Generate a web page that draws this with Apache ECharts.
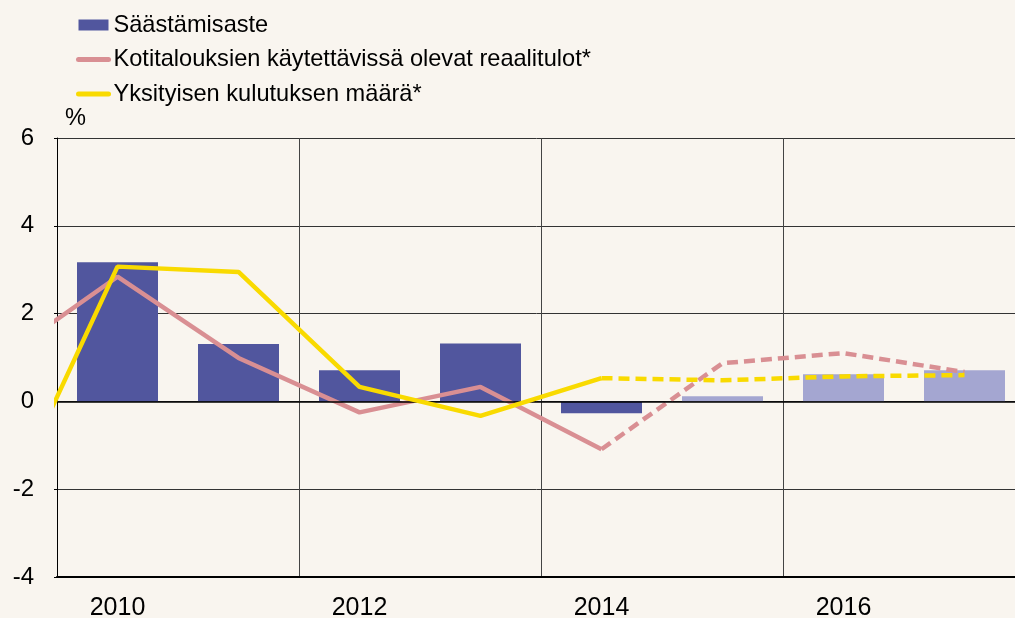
<!DOCTYPE html>
<html>
<head>
<meta charset="utf-8">
<script src="https://cdn.jsdelivr.net/npm/echarts@6/dist/echarts.min.js"></script>
<style>
  html, body { margin: 0; padding: 0; background: #f9f5ef; }
  #chart { width: 1015px; height: 618px; }
</style>
</head>
<body>
<div id="chart"></div>
<script>
// vuodet (pylväät)
const years = ['2010', '2011', '2012', '2013', '2014', '2015', '2016', '2017'];
// säästämisaste, 2015- ennuste
const saving = [3.17, 1.31, 0.71, 1.32, -0.27, 0.12, 0.62, 0.71];
const firstForecast = 5;

// viivat: vuodet 2009-2017, 2009 jää kuvan reunan taakse
const lineYears = [2009, 2010, 2011, 2012, 2013, 2014, 2015, 2016, 2017];
const income = [0.9, 2.84, 0.99, -0.25, 0.33, -1.09, 0.87, 1.1, 0.67];
const consumption = [-2.87, 3.07, 2.95, 0.33, -0.33, 0.53, 0.48, 0.57, 0.6];
const solidUntil = 5; // 2014 asti yhtenäinen

const names = ['Säästämisaste', 'Kotitalouksien käytettävissä olevat reaalitulot*', 'Yksityisen kulutuksen määrä*'];

function pairs(vals, from, to) {
  const out = [];
  for (let i = from; i <= to; i++) out.push([lineYears[i], vals[i]]);
  return out;
}

const chart = echarts.init(document.getElementById('chart'));
const font = 'Liberation Sans, Arial, sans-serif';

chart.setOption({
  backgroundColor: '#f9f5ef',
  animation: false,
  textStyle: { fontFamily: font },
  legend: {
    orient: 'vertical',
    left: 76,
    top: 13,
    padding: 0,
    itemWidth: 30,
    itemHeight: 11,
    itemGap: 10.5,
    textStyle: { fontSize: 23.6, color: '#000', fontFamily: font },
    data: [
      { name: names[0], icon: 'rect' },
      { name: names[1], itemStyle: { opacity: 0 }, lineStyle: { width: 5, cap: 'round' } },
      { name: names[2], itemStyle: { opacity: 0 }, lineStyle: { width: 5, cap: 'round' } }
    ]
  },
  // plot area continues past the right edge of the picture
  grid: { left: 57, top: 138, width: 968, height: 439, outerBoundsMode: 'none' },
  xAxis: [
    {
      type: 'category',
      data: years,
      boundaryGap: true,
      axisLine: { onZero: false, lineStyle: { color: '#000', width: 2 } },
      axisTick: { show: false },
      axisLabel: { interval: 1, fontSize: 25, color: '#000', margin: 19, fontFamily: font },
      splitLine: { show: true, interval: 1, lineStyle: { color: '#444', width: 1 } }
    },
    {
      type: 'value',
      min: 2009.5,
      max: 2017.5,
      show: false
    }
  ],
  yAxis: {
    type: 'value',
    min: -4,
    max: 6,
    interval: 2,
    name: '%',
    nameLocation: 'end',
    nameGap: 8,
    nameTextStyle: { fontSize: 23.6, color: '#000', align: 'left', padding: [0, 0, 0, 8], fontFamily: font },
    axisLine: { show: true, lineStyle: { color: '#000', width: 1 } },
    axisTick: { show: true, length: 3, lineStyle: { color: '#000' } },
    axisLabel: { fontSize: 24, color: '#000', margin: 23, fontFamily: font },
    splitLine: { show: true, lineStyle: { color: '#333', width: 1 } }
  },
  series: [
    {
      name: names[0],
      type: 'bar',
      barWidth: 81,
      itemStyle: { color: '#51569e' },
      data: saving.map((v, i) => ({
        value: v,
        itemStyle: { color: i >= firstForecast ? '#a4a6d1' : '#51569e' }
      })),
      markLine: {
        silent: true,
        symbol: 'none',
        label: { show: false },
        lineStyle: { color: '#000', width: 1.5, type: 'solid' },
        data: [{ yAxis: 0 }]
      },
      z: 2
    },
    {
      name: names[1],
      type: 'line',
      xAxisIndex: 1,
      symbol: 'none',
      lineStyle: { color: '#d98f93', width: 4.5 },
      itemStyle: { color: '#d98f93' },
      data: pairs(income, 0, solidUntil),
      z: 4
    },
    {
      name: names[1],
      type: 'line',
      xAxisIndex: 1,
      symbol: 'none',
      lineStyle: { color: '#d98f93', width: 4.5, type: [11, 6] },
      itemStyle: { color: '#d98f93' },
      data: pairs(income, solidUntil, lineYears.length - 1),
      z: 4
    },
    {
      name: names[2],
      type: 'line',
      xAxisIndex: 1,
      symbol: 'none',
      lineStyle: { color: '#f9da00', width: 4.5 },
      itemStyle: { color: '#f9da00' },
      data: pairs(consumption, 0, solidUntil),
      z: 5
    },
    {
      name: names[2],
      type: 'line',
      xAxisIndex: 1,
      symbol: 'none',
      lineStyle: { color: '#f9da00', width: 4.5, type: [11, 6] },
      itemStyle: { color: '#f9da00' },
      data: pairs(consumption, solidUntil, lineYears.length - 1),
      z: 5
    }
  ]
});
</script>
</body>
</html>
